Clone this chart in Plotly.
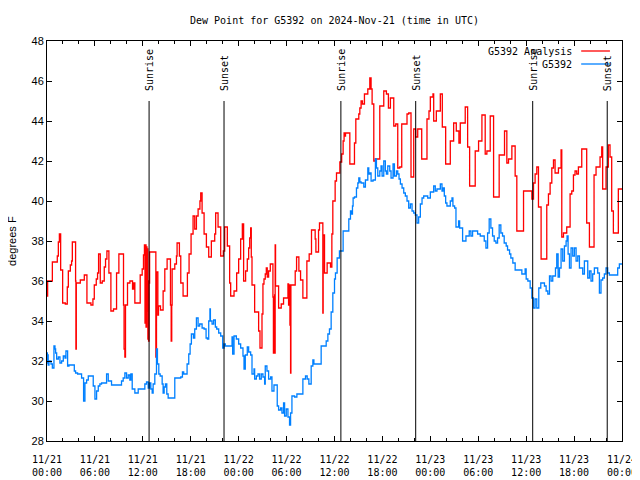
import pandas as pd
import plotly.graph_objects as go

# ---- data (hours after 2024-11-21 00:00 UTC, dew point in F) ----
analysis_hours = [0.0, 0.08, 0.67, 1.29, 1.42, 1.55, 1.71, 1.96, 2.29, 2.54, 2.67, 2.92, 3.08, 3.17, 3.58, 3.62, 3.67,
    4.17, 4.67, 5.0, 5.5, 5.75, 5.92, 6.17, 6.33, 6.46, 6.67, 6.92, 7.17, 7.33, 7.5, 7.75, 8.0, 8.33, 8.71, 9.0,
    9.58, 9.65, 9.75, 9.83, 10.08, 10.38, 10.71, 10.85, 11.0, 11.67, 11.92, 12.08, 12.2, 12.27, 12.33, 12.4, 12.46,
    12.52, 12.58, 12.63, 12.68, 12.72, 12.77, 12.85, 13.63, 13.71, 13.88, 13.96, 14.21, 14.54, 14.75, 15.04, 15.46,
    15.55, 15.62, 15.67, 16.0, 16.21, 16.29, 16.58, 16.75, 17.04, 17.58, 17.79, 18.04, 18.29, 18.5, 18.71, 18.92,
    19.15, 19.25, 19.42, 19.67, 19.96, 20.25, 20.58, 21.0, 21.12, 21.42, 21.75, 22.08, 22.25, 22.58, 22.87, 23.0,
    23.42, 23.75, 24.0, 24.25, 24.46, 24.62, 24.87, 25.08, 25.25, 25.38, 25.5, 25.58, 25.67, 26.0, 26.5, 26.67,
    26.92, 27.04, 27.17, 27.33, 27.46, 27.58, 27.75, 27.96, 28.29, 28.35, 28.42, 28.46, 28.5, 28.54, 28.57, 28.62,
    29.0, 29.33, 29.62, 30.17, 30.25, 30.33, 30.42, 30.5, 30.54, 31.08, 31.25, 31.54, 31.75, 32.04, 32.54, 32.83,
    33.12, 33.58, 33.67, 34.0, 34.12, 34.54, 34.58, 34.75, 35.08, 35.5, 35.67, 35.79, 36.08, 36.25, 36.67, 36.9,
    37.08, 37.2, 37.25, 37.38, 37.92, 38.5, 38.67, 39.04, 39.17, 39.33, 39.5, 39.75, 40.17, 40.42, 40.58, 40.71,
    40.92, 41.12, 41.67, 42.17, 42.5, 42.75, 43.0, 43.42, 43.67, 43.92, 44.17, 44.42, 45.08, 45.29, 45.58, 45.92,
    46.17, 46.42, 46.92, 47.58, 47.83, 48.0, 48.33, 48.42, 48.75, 49.25, 49.5, 49.92, 50.5, 50.92, 51.25, 51.58,
    51.75, 52.37, 52.67, 52.92, 53.62, 54.04, 54.46, 54.87, 55.08, 55.5, 55.92, 56.62, 57.29, 57.58, 57.79, 58.21,
    58.62, 58.83, 59.67, 60.71, 60.92, 61.12, 61.33, 61.54, 61.87, 62.58, 62.79, 63.0, 63.21, 63.42, 63.62, 64.04,
    64.37, 64.46, 64.67, 65.08, 65.5, 65.71, 65.92, 66.12, 66.33, 66.54, 66.96, 67.25, 67.58, 67.92, 68.5, 68.75,
    69.25, 69.46, 69.58, 70.0, 70.29, 70.5, 70.71, 70.92, 71.54, 72.0]
analysis_values = [35.25, 36.0, 36.95, 37.25, 37.95, 38.35, 36.55, 34.9, 34.85, 35.7, 36.5, 36.8, 37.0, 37.95, 36.0, 32.6, 35.9,
    36.05, 36.3, 34.9, 34.8, 35.1, 35.8, 36.1, 36.4, 37.35, 35.9, 36.0, 36.7, 37.1, 37.5, 36.4, 34.5, 34.6, 36.4, 37.35,
    34.8, 32.6, 32.2, 34.8, 35.9, 36.0, 35.6, 35.9, 34.9, 36.3, 36.6, 37.3, 37.8, 33.9, 37.8, 33.7, 37.7,
    34.5, 37.6, 33.1, 36.0, 33.0, 35.9, 37.45, 32.2, 36.45, 34.3, 34.75, 34.55, 35.5, 36.6, 37.1, 34.8,
    33.0, 34.8, 36.6, 36.85, 37.25, 37.9, 37.25, 35.9, 35.25, 36.4, 37.35, 38.35, 39.25, 38.6, 39.25, 39.6,
    40.0, 40.4, 39.4, 38.35, 37.7, 37.2, 38.0, 38.35, 39.4, 38.7, 37.25, 37.5, 38.7, 37.75, 35.9, 35.25,
    35.5, 36.4, 37.1, 38.1, 38.85, 36.0, 36.5, 37.1, 37.65, 38.15, 38.65, 37.2, 35.8, 34.45, 33.5, 32.65,
    34.35, 35.85, 36.1, 36.35, 36.65, 36.2, 36.5, 36.85, 35.2, 32.4, 34.8, 32.5, 35.3, 32.4, 37.8, 35.75,
    34.65, 34.85, 35.15, 35.85, 34.8, 35.8, 33.8, 31.4, 35.8, 36.5, 37.2, 36.5, 36.05, 35.15, 37.0, 37.35,
    38.55, 38.1, 37.45, 38.55, 38.9, 34.4, 38.3, 36.4, 36.9, 36.7, 38.35, 40.0, 41.0, 41.4, 41.95, 42.35,
    43.0, 43.4, 43.25, 43.4, 41.85, 42.9, 44.1, 44.35, 44.65, 45.0, 44.85, 45.35, 45.6, 46.15, 45.6, 44.85,
    42.0, 42.1, 44.75, 45.5, 45.35, 44.65, 45.15, 43.75, 43.85, 41.65, 41.7, 43.85, 44.35, 44.4, 41.2, 43.6,
    43.2, 43.6, 42.1, 44.1, 44.5, 45.2, 45.35, 44.0, 44.5, 45.35, 43.7, 41.85, 43.0, 43.9, 43.5, 42.9,
    43.9, 44.7, 42.7, 40.75, 42.5, 43.0, 44.3, 42.35, 42.5, 44.25, 40.2, 42.3, 43.5, 41.9, 42.1, 42.75,
    41.25, 38.5, 40.5, 40.1, 40.9, 41.35, 41.7, 39.7, 37.1, 39.8, 40.35, 40.9, 41.65, 42.05, 41.4, 41.65,
    42.55, 38.2, 38.4, 38.7, 40.35, 40.5, 41.3, 41.5, 41.35, 41.7, 42.6, 42.6, 38.9, 37.7, 41.3, 41.7,
    42.2, 42.7, 40.6, 41.7, 42.8, 42.2, 39.5, 38.4, 40.6, 40.6]

station_hours = [0.0, 0.04, 0.08, 0.15, 0.25, 0.5, 0.67, 0.87, 1.0, 1.08, 1.21, 1.42, 1.62, 1.83, 2.04, 2.25, 2.37, 2.58,
    2.75, 3.42, 3.58, 3.83, 4.33, 4.58, 4.75, 4.96, 5.17, 5.79, 6.0, 6.21, 6.42, 6.62, 6.83, 7.46, 7.67, 8.08, 9.33,
    9.54, 9.75, 9.96, 10.17, 10.37, 10.5, 10.67, 11.0, 11.42, 12.25, 12.46, 12.67, 12.83, 13.0, 13.17, 13.29, 13.5,
    13.71, 13.83, 14.0, 14.17, 14.42, 14.54, 14.67, 14.83, 15.0, 15.17, 16.0, 16.75, 16.96, 17.12, 17.54, 17.75,
    17.92, 18.08, 18.33, 18.5, 18.71, 18.92, 19.12, 19.42, 19.67, 19.92, 20.08, 20.25, 20.4, 20.46, 20.67, 20.87,
    21.08, 21.25, 21.5, 21.75, 22.0, 22.17, 22.33, 23.17, 23.25, 23.42, 23.71, 24.0, 24.25, 24.54, 24.67, 24.83,
    25.08, 25.25, 25.5, 25.67, 25.92, 26.0, 26.21, 26.42, 26.62, 26.83, 27.04, 27.25, 27.33, 27.54, 27.75, 28.0,
    28.17, 28.42, 28.83, 29.0, 29.25, 29.42, 29.62, 29.75, 29.96, 30.17, 30.37, 30.5, 30.67, 31.0, 31.29, 32.04,
    32.37, 32.58, 32.79, 33.08, 33.29, 33.42, 34.33, 34.96, 35.17, 35.37, 35.58, 35.79, 36.0, 36.12, 36.33, 36.62,
    37.08, 37.79, 38.0, 38.12, 38.25, 38.33, 38.5, 38.75, 38.92, 39.04, 39.17, 39.33, 39.67, 39.87, 40.17, 40.29,
    40.42, 40.58, 40.83, 41.12, 41.25, 41.42, 41.67, 41.83, 41.96, 42.17, 42.37, 42.5, 42.67, 42.92, 43.08, 43.33,
    43.5, 43.75, 43.92, 44.08, 44.25, 44.46, 44.67, 44.87, 45.08, 45.29, 45.5, 45.71, 45.92, 46.12, 46.33, 46.54,
    46.75, 46.96, 47.17, 47.67, 48.0, 48.42, 48.62, 48.83, 49.25, 49.46, 49.58, 49.75, 49.92, 50.08, 50.5, 50.71,
    50.83, 51.04, 51.21, 51.54, 51.67, 52.04, 52.46, 52.87, 53.08, 53.29, 53.92, 54.25, 54.75, 54.96, 55.17, 55.37,
    55.58, 55.79, 56.0, 56.21, 56.42, 56.62, 56.83, 57.04, 57.25, 57.5, 57.67, 57.92, 58.08, 58.33, 58.62, 59.46,
    59.87, 60.0, 60.21, 60.5, 60.71, 60.92, 61.12, 61.33, 61.58, 61.83, 62.29, 62.5, 62.71, 62.92, 63.12, 63.33,
    63.67, 63.83, 64.0, 64.17, 64.37, 64.58, 64.79, 65.0, 65.12, 65.25, 65.42, 65.62, 65.83, 66.04, 66.25, 66.46,
    66.67, 67.08, 67.29, 67.71, 67.92, 68.12, 68.33, 68.54, 68.96, 69.17, 69.37, 69.58, 69.79, 70.0, 70.21, 70.42,
    71.46, 71.67, 72.0]
station_values = [32.4, 31.9, 32.3, 31.8, 32.0, 31.85, 31.65, 32.75, 32.6, 32.4, 32.1, 32.2, 31.9, 32.0, 32.25, 32.15, 32.5, 31.75,
    31.8, 31.5, 31.4, 31.35, 31.15, 30.0, 30.9, 31.05, 31.25, 30.75, 30.1, 30.5, 30.75, 30.85, 30.9, 31.35, 31.0, 30.8, 31.0,
    31.15, 31.4, 31.15, 31.3, 31.05, 31.35, 30.6, 30.4, 30.6, 30.85, 30.95, 30.65, 30.9, 30.6, 30.4, 30.85, 31.35,
    32.6, 31.85, 31.35, 31.25, 30.85, 30.4, 30.7, 30.85, 30.35, 30.15, 31.15, 31.2, 31.45, 31.35, 31.85, 32.35,
    32.85, 33.35, 33.15, 33.6, 34.15, 33.75, 33.85, 33.65, 33.6, 33.15, 33.1, 34.0, 34.6, 34.0, 33.85, 34.05,
    33.7, 33.6, 33.4, 33.25, 32.65, 32.85, 32.75, 33.2, 32.35, 33.25, 33.1, 32.85, 32.65, 32.25, 31.6, 32.3,
    32.7, 32.45, 32.3, 31.35, 31.6, 31.1, 31.25, 31.35, 31.1, 31.35, 31.2, 30.85, 31.75, 31.5, 31.1, 31.2,
    30.5, 30.8, 29.75, 29.55, 29.65, 29.4, 29.9, 29.25, 29.6, 29.2, 28.8, 29.4, 30.25, 30.2, 30.35, 31.1,
    31.25, 31.1, 30.85, 31.75, 32.05, 31.85, 32.75, 33.0, 33.35, 33.6, 34.45, 35.4, 36.1, 36.4, 37.15, 37.5,
    38.5, 39.1, 39.5, 39.35, 39.75, 40.15, 40.2, 40.65, 40.9, 41.15, 40.95, 40.9, 40.7, 41.05, 41.65, 41.35,
    41.4, 41.0, 41.05, 42.1, 41.65, 41.25, 41.5, 41.75, 41.25, 42.0, 41.5, 41.35, 41.75, 41.5, 41.15, 41.85,
    41.25, 41.5, 41.35, 41.1, 40.85, 40.65, 40.4, 40.25, 40.0, 39.65, 39.85, 39.5, 39.4, 39.3, 38.9, 39.2,
    39.85, 40.15, 40.25, 40.15, 40.45, 40.75, 40.5, 40.6, 40.85, 40.5, 40.65, 40.25, 39.9, 39.75, 40.0, 40.15,
    39.75, 39.65, 38.7, 39.0, 38.65, 38.0, 38.25, 38.5, 38.25, 38.5, 38.35, 38.25, 38.0, 37.65, 38.4, 39.1,
    38.65, 38.25, 38.0, 37.9, 38.15, 38.8, 38.4, 38.25, 37.9, 37.75, 37.55, 37.35, 37.15, 36.9, 36.55, 36.35,
    36.6, 36.1, 36.0, 35.65, 35.15, 34.65, 35.1, 34.65, 35.65, 35.9, 35.75, 35.5, 35.35, 36.25, 36.0, 36.25,
    36.65, 37.35, 36.2, 36.65, 37.6, 37.0, 37.75, 38.0, 38.25, 37.35, 36.65, 37.65, 37.25, 37.65, 37.0, 37.25,
    36.65, 36.35, 37.0, 36.15, 36.5, 36.0, 36.35, 36.65, 36.4, 35.4, 36.05, 36.15, 36.35, 36.65, 36.4, 36.3,
    36.65, 36.85, 36.85]

sun_event_times = ["2024-11-21 12:47", "2024-11-21 22:10", "2024-11-22 12:48", "2024-11-22 22:10",
                   "2024-11-23 12:49", "2024-11-23 22:09"]
sun_event_labels = ["Sunrise", "Sunset", "Sunrise", "Sunset", "Sunrise", "Sunset"]

series_names = ["G5392 Analysis", "G5392"]
series_colors = ["#ff0000", "#0080ff"]

start = pd.Timestamp("2024-11-21 00:00")
end = pd.Timestamp("2024-11-24 00:00")

def to_time(hours):
    return [start + pd.Timedelta(hours=h) for h in hours]

MONO = "DejaVu Sans Mono"
SANS = "Liberation Sans"

fig = go.Figure()
fig.add_trace(go.Scatter(x=to_time(analysis_hours), y=analysis_values, mode="lines",
                         line=dict(color=series_colors[0], width=1.3, shape="hv"),
                         name=series_names[0], showlegend=False))
fig.add_trace(go.Scatter(x=to_time(station_hours), y=station_values, mode="lines",
                         line=dict(color=series_colors[1], width=1.3, shape="hv"),
                         name=series_names[1], showlegend=False))

shapes = []
annotations = []
for t, lab in zip(sun_event_times, sun_event_labels):
    shapes.append(dict(type="line", xref="x", yref="paper", x0=t, x1=t, y0=0, y1=0.85,
                       line=dict(color="black", width=1)))
    annotations.append(dict(x=t, y=0.87, xref="x", yref="paper", text=lab, textangle=-90,
                            showarrow=False, xanchor="center", yanchor="bottom",
                            font=dict(family=MONO, size=10, color="black")))

# gnuplot-style legend: text then line sample
leg_y = [0.975, 0.9425]
for name, col, yy in zip(series_names, series_colors, leg_y):
    annotations.append(dict(x=0.917, y=yy, xref="paper", yref="paper", text=name, showarrow=False,
                            xanchor="right", yanchor="middle",
                            font=dict(family=MONO, size=10, color="black")))
    shapes.append(dict(type="line", xref="paper", yref="paper", x0=0.929, x1=0.979, y0=yy, y1=yy,
                       line=dict(color=col, width=1.3)))

annotations.append(dict(x=-0.061, y=0.5, xref="paper", yref="paper", text="degrees F", textangle=-90,
                        showarrow=False, xanchor="center", yanchor="middle",
                        font=dict(family=SANS, size=11, color="black")))

# page body adds a small offset; figure sized so the plot box lands at 46..622 x 40..440
fig.update_layout(
    width=632, height=472,
    margin=dict(l=39, r=18, t=33, b=39, autoexpand=False),
    paper_bgcolor="white", plot_bgcolor="white",
    title=dict(text="Dew Point for G5392 on 2024-Nov-21 (time in UTC)", x=0.5, xref="paper",
               y=1 - 12 / 472, yanchor="middle", xanchor="center",
               font=dict(family=MONO, size=10, color="black")),
    shapes=shapes, annotations=annotations,
)
fig.update_xaxes(range=[start, end], type="date", dtick=6 * 3600 * 1000, tick0=start,
                 tickformat="%m/%d<br>%H:%M", ticks="inside", ticklen=5, tickcolor="black",
                 minor=dict(dtick=2 * 3600 * 1000, ticks="inside", ticklen=3, tickcolor="black"),
                 showline=True, linecolor="black", linewidth=1, mirror="ticks", showgrid=False,
                 zeroline=False, automargin=False, ticklabelstandoff=9, ticklabeloverflow="allow",
                 tickfont=dict(family=MONO, size=10, color="black"))
fig.update_yaxes(range=[28, 48], dtick=2, ticks="inside", ticklen=5, tickcolor="black",
                 showline=True, linecolor="black", linewidth=1, mirror="ticks", showgrid=False,
                 zeroline=False, automargin=False, tickfont=dict(family=SANS, size=11, color="black"))

fig.write_html("out.html")
